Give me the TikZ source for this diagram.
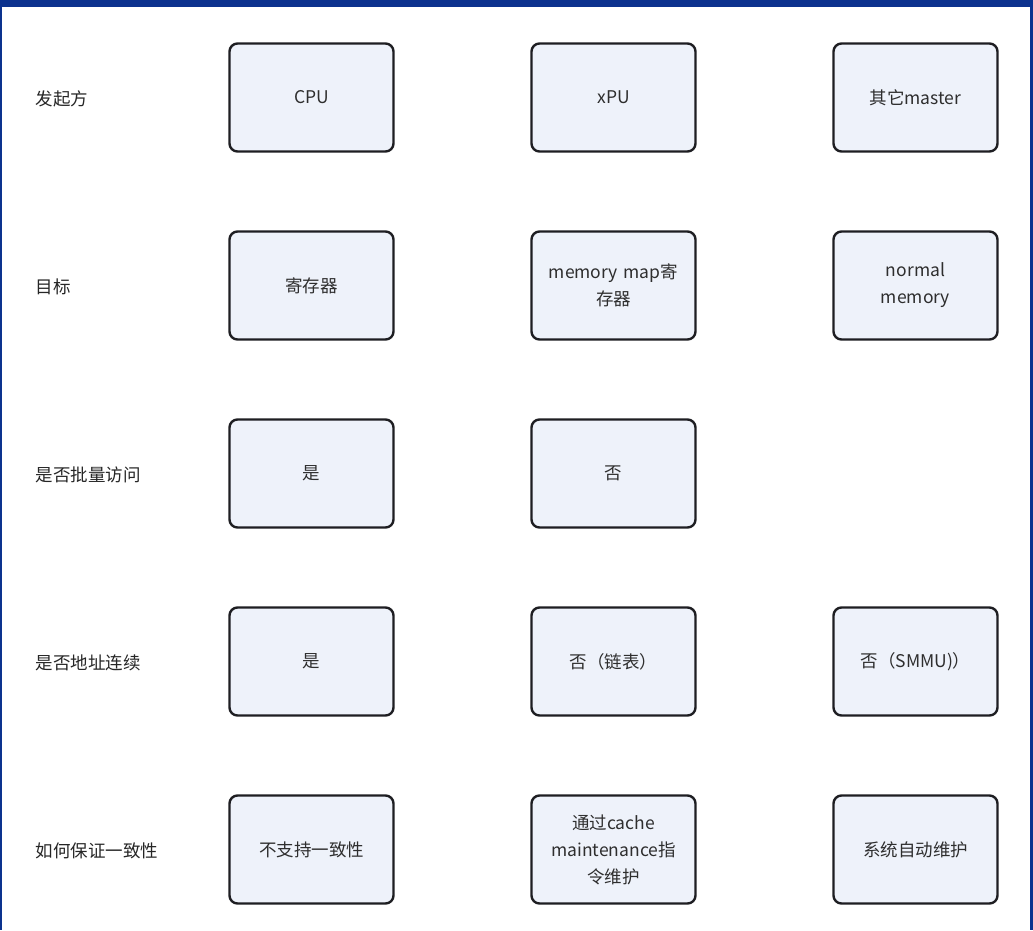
\documentclass[tikz,border=0pt]{standalone}
\usepackage{fontspec}
\setmainfont{Noto Sans CJK SC}
\definecolor{framebl}{RGB}{12,50,142}
\definecolor{cellfill}{RGB}{238,242,250}
\definecolor{cellline}{RGB}{30,30,34}
\begin{document}
\begin{tikzpicture}[x=1pt,y=-1pt,
  cell/.style={draw=cellline, line width=2.4pt, rounded corners=8pt, fill=cellfill,
    minimum width=164pt, minimum height=108pt, align=center, text width=150pt,
    font=\fontsize{17.5}{27}\selectfont, text=black!82},
  rowlab/.style={anchor=west, font=\fontsize{17.5}{20}\selectfont, text=black!85}]
\useasboundingbox (0,0) rectangle (1033,930);
\fill[white] (0,0) rectangle (1033,930);
\fill[framebl] (0,0) rectangle (1033,7);
\fill[framebl] (1029.5,0) rectangle (1033,930);
\fill[framebl] (0,0) rectangle (1.5,930);
% row labels
\node[rowlab] (l1) at (32,99) {发起方};
\node[rowlab] (l2) at (32,287) {目标};
\node[rowlab] (l3) at (32,475) {是否批量访问};
\node[rowlab] (l4) at (32,663) {是否地址连续};
\node[rowlab] (l5) at (32,851) {如何保证一致性};
% boxes
\node[cell] (a1) at (311.5,97.5) {CPU};
\node[cell] (b1) at (613.5,97.5) {xPU};
\node[cell] (c1) at (915.5,97.5) {其它master};
\node[cell] (a2) at (311.5,285.5) {寄存器};
\node[cell] (b2) at (613.5,285.5) {memory map寄\\存器};
\node[cell] (c2) at (915.5,285.5) {normal\\memory};
\node[cell] (a3) at (311.5,473.5) {是};
\node[cell] (b3) at (613.5,473.5) {否};
\node[cell] (a4) at (311.5,661.5) {是};
\node[cell] (b4) at (613.5,661.5) {否（链表）};
\node[cell] (c4) at (915.5,661.5) {否（SMMU)）};
\node[cell] (a5) at (311.5,849.5) {不支持一致性};
\node[cell] (b5) at (613.5,849.5) {通过cache\\maintenance指\\令维护};
\node[cell] (c5) at (915.5,849.5) {系统自动维护};
\end{tikzpicture}
\end{document}
